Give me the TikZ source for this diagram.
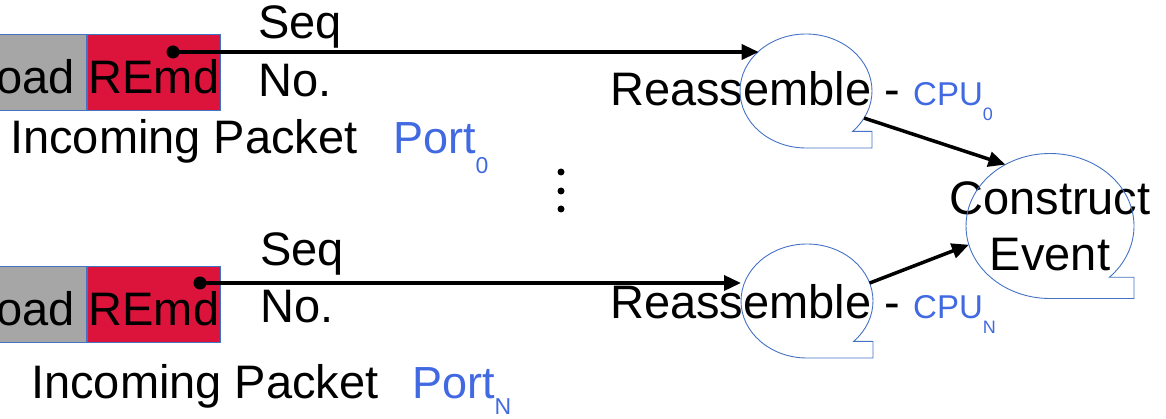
\documentclass[tikz,border=0pt]{standalone}
\usepackage{fontspec}
\setmainfont{Liberation Sans}
\usetikzlibrary{arrows.meta,positioning,shapes.geometric}

\definecolor{remdred}{RGB}{220,20,60}
\definecolor{payloadgray}{RGB}{166,166,166}
\definecolor{edgeblue}{RGB}{68,114,196}
\definecolor{labelblue}{RGB}{65,105,225}

\tikzset{
  field/.style={draw=edgeblue, line width=0.9pt, minimum height=76pt, inner sep=0pt,
    text height=42pt, text depth=0pt},
  storage/.style={ellipse, inner sep=0pt, outer sep=0pt},
  tapeline/.style={draw=edgeblue, line width=0.9pt},
  link/.style={line width=3.5pt, -{Triangle[length=17pt,width=15pt]}},
  lbl/.style={inner sep=0pt, anchor=base west}
}

% blue names with a lowered index
\newcommand{\cpulabel}[1]{{\color{labelblue}\fontsize{33}{33}\selectfont CPU\raisebox{-15pt}{\fontsize{18}{18}\selectfont #1}}}
\newcommand{\portlabel}[2]{{\color{labelblue}\fontsize{45}{45}\selectfont Port\raisebox{-#2}{\fontsize{23}{23}\selectfont #1}}}

\begin{document}
\begin{tikzpicture}[x=1pt, y=-1pt, font=\fontsize{47}{56}\selectfont]
  \useasboundingbox (0,0) rectangle (1166,419);
  \clip (0,0) rectangle (1166,419);

  % packet headers
  \node[field, fill=remdred, minimum width=133pt, anchor=north west] (remd0) at (87,34) {REmd};
  \node[field, fill=payloadgray, inner xsep=12pt, left=0pt of remd0] (pay0) {Payload};
  \node[field, fill=remdred, minimum width=133pt, anchor=north west] (remdN) at (87,266) {REmd};
  \node[field, fill=payloadgray, inner xsep=12pt, left=0pt of remdN] (payN) {Payload};

  \node[lbl] (seq0) at (258,39) {Seq};
  \node[lbl] (num0) at (258,97) {No.};
  \node[lbl] (seqN) at (260,266) {Seq};
  \node[lbl] (numN) at (260,323) {No.};

  \node[lbl] (in0) at (10,154) {Incoming Packet};
  \node[lbl] (port0) at (393,154) {\portlabel{0}{20pt}};
  \node[lbl] (inN) at (31,398) {Incoming Packet};
  \node[lbl] (portN) at (412,398) {\portlabel{N}{16pt}};

  % vertical dots
  \foreach \y in {172,191,209}
    \fill (561,\y) circle[radius=3.5pt];

  % tape drums
  \node[storage, minimum width=132pt, minimum height=114pt] (re0) at (806,91) {};
  \node[storage, minimum width=132pt, minimum height=114pt] (reN) at (807,301) {};
  \node[storage, minimum width=168pt, minimum height=145pt] (ev) at (1050,226) {};

  \node[lbl] (cpu0) at (610,106) {Reassemble - \cpulabel{0}};
  \node[lbl] (cpuN) at (610,318) {Reassemble - \cpulabel{N}};
  \node[align=center, inner sep=0pt] (evtext) at (ev) {Construct\\Event};

  \foreach \n/\rx/\ry in {re0/66pt/57pt, reN/66pt/57pt, ev/84pt/72.5pt}
    \draw[tapeline] (\n.south) arc[start angle=-90, delta angle=-315, x radius=\rx, y radius=\ry]
      -- ++({0.2929*\rx},0pt) |- (\n.south) -- cycle;

  % sequence numbers into the reassemblers
  \coordinate (dot0) at (173,52);
  \coordinate (dotN) at (200,283);
  \fill (dot0) circle[radius=6.5pt];
  \fill (dotN) circle[radius=6.5pt];
  \draw[link] (dot0) -- (dot0 -| re0.140);
  \draw[link] (dotN) -- (dotN -| reN.west);
  \draw[link] (re0.-25) -- (ev.126);
  \draw[link] (reN.16) -- (ev.193);
\end{tikzpicture}
\end{document}
